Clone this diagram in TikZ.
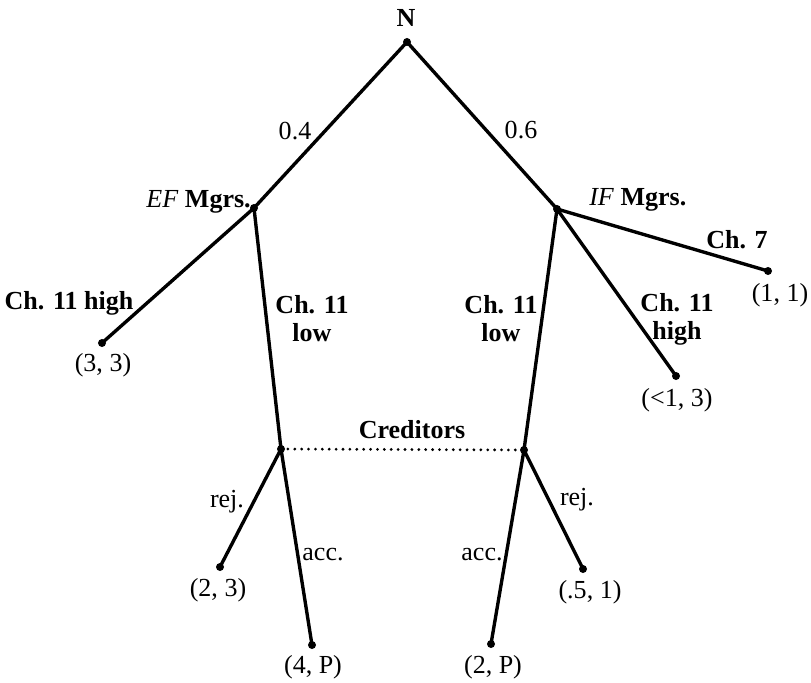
\documentclass[tikz,border=0pt]{standalone}
\usepackage{fontspec}
\setmainfont{Liberation Serif}
\usetikzlibrary{positioning}

\begin{document}
\begin{tikzpicture}[x=0.025cm, y=-0.025cm,
    branch/.style={line width=2.4pt},
    txt/.style={font=\fontsize{18.5}{20}\selectfont, inner sep=0pt},
    btxt/.style={font=\fontsize{18.5}{20}\selectfont\bfseries, inner sep=0pt, align=center}]
    \useasboundingbox (0,0) rectangle (811,683);
    % decision points
    \coordinate (N) at (407,42);
    \coordinate (EF) at (254,208);
    \coordinate (IF) at (557,209);
    \coordinate (EFhigh) at (102,343);
    \coordinate (EFcred) at (281,449);
    \coordinate (IFcred) at (524,450);
    \coordinate (IFseven) at (768,271);
    \coordinate (IFhigh) at (676,376);
    \coordinate (EFrej) at (220,567);
    \coordinate (EFacc) at (312,645);
    \coordinate (IFacc) at (491,644);
    \coordinate (IFrej) at (583,569);
    % branches
    \draw[branch] (EF) -- (N) -- (IF);
    \draw[branch] (EFhigh) -- (EF) -- (EFcred);
    \draw[branch] (IFcred) -- (IF) -- (IFhigh);
    \draw[branch] (IF) -- (IFseven);
    \draw[branch] (EFrej) -- (EFcred) -- (EFacc);
    \draw[branch] (IFacc) -- (IFcred) -- (IFrej);
    \draw[line width=2.2pt, line cap=round, dash pattern=on 0pt off 4.9pt] (EFcred) -- (IFcred);
    \foreach \p in {N,EF,IF,EFhigh,EFcred,IFcred,IFseven,IFhigh,EFrej,EFacc,IFacc,IFrej}
        \fill (\p) circle[radius=0.1cm];
    % players
    \node[btxt] (lN) at (406,18) {N};
    \node[txt, anchor=east] (lEF) at (251,202) {\textit{EF} \textbf{Mgrs.}};
    \node[txt, anchor=west] (lIF) at (589,200) {\textit{IF} \textbf{Mgrs.}};
    \node[btxt] (lCred) at (412,430) {Creditors};
    % moves
    \node[txt] (pL) at (295,131) {0.4};
    \node[txt] (pR) at (521,130) {0.6};
    \node[btxt] (mEFhigh) at (69,303) {Ch. 11 high};
    \node[btxt] (mEFlow) at (312,319) {Ch. 11\\low};
    \node[btxt] (mIFlow) at (501,319) {Ch. 11\\low};
    \node[btxt] (mIFhigh) at (677,319) {Ch. 11\\high};
    \node[btxt] (mIFseven) at (737,240) {Ch. 7};
    \node[txt] (mEFrej) at (227,502) {rej.};
    \node[txt] (mEFacc) at (323,555) {acc.};
    \node[txt] (mIFacc) at (482,555) {acc.};
    \node[txt] (mIFrej) at (577,500) {rej.};
    % payoffs
    \node[txt] (vEFhigh) at (103,365) {(3, 3)};
    \node[txt] (vIFseven) at (780,295) {(1, 1)};
    \node[txt] (vIFhigh) at (677,400) {(<1, 3)};
    \node[txt] (vEFrej) at (218,590) {(2, 3)};
    \node[txt] (vEFacc) at (313,667) {(4, P)};
    \node[txt] (vIFacc) at (493,667) {(2, P)};
    \node[txt] (vIFrej) at (590,592) {(.5, 1)};
\end{tikzpicture}
\end{document}
